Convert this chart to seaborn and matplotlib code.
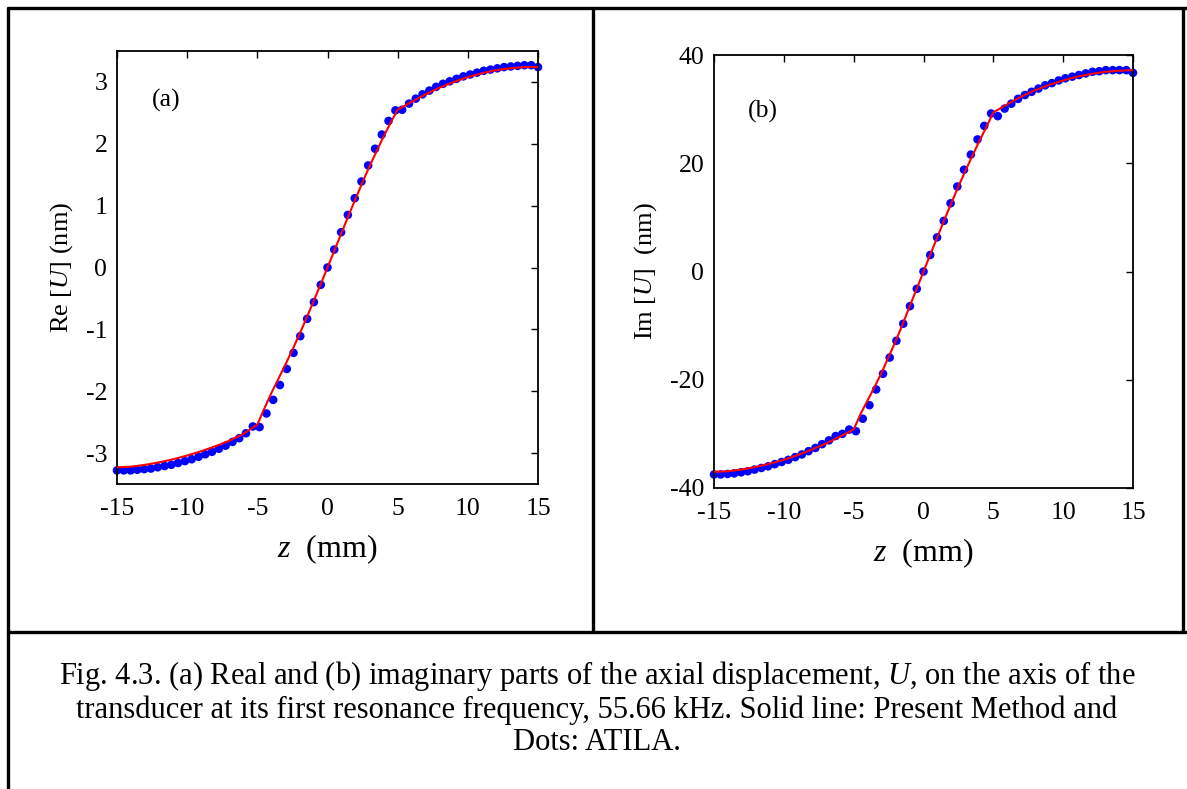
import numpy as np
import pandas as pd
import matplotlib
matplotlib.use("Agg")
import matplotlib.pyplot as plt
from matplotlib.lines import Line2D
import seaborn as sns

# ---------------- data ----------------
# ATILA dots (z in mm)
z_dots = [-15.00, -14.52, -14.03, -13.55, -13.06, -12.58, -12.10, -11.61, -11.13, -10.65,
          -10.16, -9.68, -9.19, -8.71, -8.23, -7.74, -7.26, -6.77, -6.29, -5.81,
          -5.32, -4.84, -4.35, -3.87, -3.39, -2.90, -2.42, -1.94, -1.45, -0.97,
          -0.48, 0.00, 0.48, 0.97, 1.45, 1.94, 2.42, 2.90, 3.39, 3.87,
          4.35, 4.84, 5.32, 5.81, 6.29, 6.77, 7.26, 7.74, 8.23, 8.71,
          9.19, 9.68, 10.16, 10.65, 11.13, 11.61, 12.10, 12.58, 13.06, 13.55,
          14.03, 14.52, 15.00]
re_dots = [-3.28, -3.28, -3.28, -3.27, -3.26, -3.25, -3.23, -3.21, -3.19, -3.16,
           -3.13, -3.10, -3.06, -3.02, -2.98, -2.93, -2.88, -2.82, -2.76, -2.68,
           -2.57, -2.58, -2.36, -2.14, -1.90, -1.64, -1.38, -1.11, -0.83, -0.56,
           -0.28, 0.00, 0.29, 0.57, 0.85, 1.12, 1.39, 1.65, 1.92, 2.15,
           2.37, 2.54, 2.55, 2.65, 2.73, 2.80, 2.86, 2.92, 2.97, 3.01,
           3.05, 3.09, 3.12, 3.15, 3.18, 3.20, 3.22, 3.24, 3.25, 3.26,
           3.27, 3.27, 3.24]
im_dots = [-37.5, -37.5, -37.4, -37.3, -37.1, -36.9, -36.6, -36.3, -36.0, -35.6,
           -35.2, -34.8, -34.3, -33.8, -33.2, -32.6, -31.9, -31.2, -30.4, -30.0,
           -29.2, -29.5, -27.2, -24.7, -21.8, -18.9, -15.9, -12.8, -9.65, -6.4,
           -3.2, 0.0, 3.05, 6.3, 9.35, 12.6, 15.7, 18.8, 21.6, 24.4,
           26.9, 29.2, 28.7, 30.1, 31.0, 31.9, 32.6, 33.2, 33.8, 34.4,
           34.8, 35.3, 35.7, 36.0, 36.3, 36.6, 36.9, 37.0, 37.2, 37.2,
           37.2, 37.2, 36.7]

# Present method (solid line)
z_line = [-15, -14, -13, -12, -11, -10, -9, -8, -7, -6, -5,
          -4.5, -4, -3.5, -3, -2.5, -2, -1.5, -1, -0.5, 0,
          0.5, 1, 1.5, 2, 2.5, 3, 3.5, 4, 4.5, 5,
          6, 7, 8, 9, 10, 11, 12, 13, 14, 15]
re_line = [-3.23, -3.22, -3.19, -3.15, -3.10, -3.04, -2.97, -2.89, -2.80, -2.69, -2.54,
           -2.28, -2.03, -1.80, -1.57, -1.33, -1.08, -0.82, -0.55, -0.28, 0.00,
           0.28, 0.56, 0.84, 1.11, 1.38, 1.64, 1.88, 2.12, 2.34, 2.55,
           2.68, 2.80, 2.91, 3.00, 3.08, 3.14, 3.19, 3.22, 3.24, 3.24]
im_line = [-37.0, -36.9, -36.6, -36.1, -35.5, -34.8, -33.9, -32.9, -31.8, -30.5, -29.2,
           -26.3, -23.8, -21.3, -18.7, -15.8, -12.9, -9.8, -6.5, -3.3, 0.0,
           3.2, 6.4, 9.6, 12.7, 15.7, 18.6, 21.4, 24.1, 26.7, 29.4,
           30.9, 32.3, 33.5, 34.5, 35.3, 36.0, 36.5, 36.9, 37.1, 37.2]

x_ticks = [-15, -10, -5, 0, 5, 10, 15]
re_ticks = [-3, -2, -1, 0, 1, 2, 3]
im_ticks = [-40, -20, 0, 20, 40]

caption = ("Fig. 4.3. (a) Real and (b) imaginary parts of the axial displacement, $U$, on the axis of the\n"
           "transducer at its first resonance frequency, 55.66 kHz. Solid line: Present Method and\n"
           "Dots: ATILA.")

# ---------------- style ----------------
sns.set_style("white")
plt.rcParams["font.family"] = ["Liberation Serif", "DejaVu Serif"]
plt.rcParams["mathtext.fontset"] = "custom"
plt.rcParams["mathtext.rm"] = "Liberation Serif"
plt.rcParams["mathtext.it"] = "Liberation Serif:italic"
plt.rcParams["text.color"] = "black"
plt.rcParams["axes.labelcolor"] = "black"
plt.rcParams["xtick.color"] = "black"
plt.rcParams["ytick.color"] = "black"

fig = plt.figure(figsize=(11.87, 7.89), dpi=100)
W, H = 1187, 789

def ax_rect(x0, y0, x1, y1):
    return [x0 / W, 1 - y1 / H, (x1 - x0) / W, (y1 - y0) / H]

ax1 = fig.add_axes(ax_rect(117, 51, 538, 484))
ax2 = fig.add_axes(ax_rect(714, 55, 1133, 488))

dots_df1 = pd.DataFrame({"z": z_dots, "v": re_dots})
line_df1 = pd.DataFrame({"z": z_line, "v": re_line})
dots_df2 = pd.DataFrame({"z": z_dots, "v": im_dots})
line_df2 = pd.DataFrame({"z": z_line, "v": im_line})

for ax, ddf, ldf, yt, ylim, ylab, tag, tagpos in [
    (ax1, dots_df1, line_df1, re_ticks, (-3.5, 3.5), "Re [$U$] (nm)", "(a)", (166, 100)),
    (ax2, dots_df2, line_df2, im_ticks, (-40, 40), "Im [$U$]  (nm)", "(b)", (763, 111)),
]:
    sns.scatterplot(data=ddf, x="z", y="v", ax=ax, color="#0000ff", s=38,
                    edgecolor="none", linewidth=0, zorder=2, clip_on=False)
    sns.lineplot(data=ldf, x="z", y="v", ax=ax, color="#ff0000", linewidth=1.5,
                 zorder=3, estimator=None, sort=False)
    ax.set_xlim(-15, 15)
    ax.set_ylim(*ylim)
    ax.set_xticks(x_ticks)
    ax.set_yticks(yt)
    ax.set_xticklabels([str(t) for t in x_ticks])
    ax.set_yticklabels([str(t) for t in yt])
    ax.tick_params(direction="in", length=5, width=1.0, top=True, right=True,
                   labelsize=18.5, colors="black")
    ax.tick_params(axis="x", pad=10)
    ax.tick_params(axis="y", pad=7)
    for sp in ax.spines.values():
        sp.set_visible(True)
        sp.set_color("black")
        sp.set_linewidth(1.3)
    ax.set_xlabel("$z$  (mm)", fontsize=23, labelpad=9, color="black")
    ax.set_ylabel(ylab, fontsize=19, labelpad=8, color="black")
    fig.text(tagpos[0] / W, 1 - tagpos[1] / H, tag, fontsize=18.5, ha="center",
             va="center", color="black")

# table borders
def fline(x0, y0, x1, y1, lw=2.4):
    fig.add_artist(Line2D([x0 / W, x1 / W], [1 - y0 / H, 1 - y1 / H],
                          color="black", linewidth=lw, transform=fig.transFigure))

fline(8, 8, 1187, 8)          # top
fline(8, 8, 8, 789)           # left
fline(593, 8, 593, 632)       # divider
fline(1183, 8, 1183, 632)     # right
fline(8, 632, 1187, 632)      # horizontal under figures

fig.text(597 / W, 1 - 708 / H, caption, fontsize=22, ha="center", va="center",
         linespacing=1.12, color="black")

fig.savefig("out.png", dpi=100)
